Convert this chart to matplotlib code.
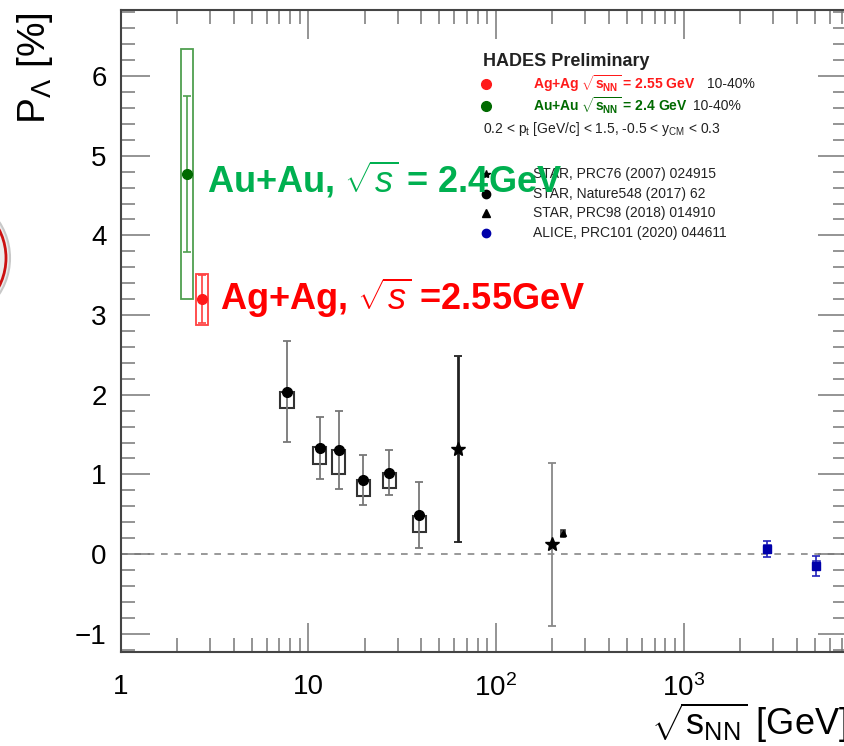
import matplotlib
matplotlib.use("Agg")
import matplotlib.pyplot as plt
from matplotlib.patches import Rectangle, Circle
import numpy as np

plt.rcParams["font.family"] = ["Liberation Sans", "DejaVu Sans"]
plt.rcParams["mathtext.fontset"] = "custom"
plt.rcParams["mathtext.rm"] = "Liberation Sans"
plt.rcParams["mathtext.it"] = "Liberation Sans:italic"
plt.rcParams["mathtext.bf"] = "Liberation Sans:bold"

# HADES (Au+Au 2.4, Ag+Ag 2.55), positions as drawn
hades_x = [2.26, 2.72]
hades_y = [4.77, 3.20]
hades_stat = [0.98, 0.30]
hades_sys = [1.57, 0.32]
hades_col = ["#006a00", "#ff1a1a"]
hades_box = ["#4f9f4f", "#ff4040"]

# STAR Nature548 (2017) 62
nat_x = [7.7, 11.5, 14.5, 19.6, 27.0, 39.0]
nat_y = [2.04, 1.33, 1.31, 0.93, 1.02, 0.49]
nat_err = [0.63, 0.39, 0.49, 0.31, 0.28, 0.42]
nat_sys_lo = [1.83, 1.13, 1.00, 0.73, 0.83, 0.28]
nat_sys_hi = [2.04, 1.34, 1.31, 0.93, 1.02, 0.48]

# STAR PRC76 (2007) 024915
prc76_x = [62.4, 200.0]
prc76_y = [1.32, 0.12]
prc76_err = [1.17, 1.02]

# STAR PRC98 (2018) 014910
prc98_x = [227.0]
prc98_y = [0.26]
prc98_err = [0.04]
prc98_sys_lo = [0.21]
prc98_sys_hi = [0.30]

# ALICE PRC101 (2020) 044611
alice_x = [2800.0, 5100.0]
alice_y = [0.06, -0.15]
alice_err = [0.10, 0.12]
alice_sys_lo = [0.01, -0.19]
alice_sys_hi = [0.11, -0.09]

W, H = 844, 746
fig = plt.figure(figsize=(W / 100, H / 100), dpi=100)


def fx(px):
    return px / W


def fy(py):
    return 1 - py / H


ax = fig.add_axes([fx(120.7), fy(652), (847 - 120.7) / W, (652 - 10) / H])
ax.set_xscale("log")
ax.set_xlim(1, 7430)
ax.set_ylim(-1.23, 6.83)


def boxes(xs, lo, hi, hw, color, lw=1.4):
    f = 10 ** hw
    for x, a, b in zip(xs, lo, hi):
        r = Rectangle((x / f, a), x * f - x / f, b - a, facecolor="none",
                      edgecolor=color, lw=lw, zorder=3)
        ax.add_patch(r)


ax.axhline(0, color="#888888", lw=1.2, ls=(0, (4, 4)), zorder=1)

# HADES
for i in range(2):
    f = 10 ** 0.032
    x = hades_x[i]
    ax.add_patch(Rectangle((x / f, hades_y[i] - hades_sys[i]), x * f - x / f,
                           2 * hades_sys[i], facecolor="none",
                           edgecolor=hades_box[i], lw=1.3, zorder=3))
    ax.errorbar([x], [hades_y[i]], yerr=[hades_stat[i]], fmt="o",
                color=hades_col[i], ms=7, ecolor=hades_box[i], elinewidth=1.2,
                capsize=3, capthick=1.2, zorder=4)

# STAR Nature
boxes(nat_x, nat_sys_lo, nat_sys_hi, 0.035, "#333333", lw=1.5)
ax.errorbar(nat_x, nat_y, yerr=nat_err, fmt="o", color="black", ms=7,
            ecolor="#777777", elinewidth=1.3, capsize=3, capthick=1.3, zorder=4)

# STAR PRC76
ax.errorbar(prc76_x[:1], prc76_y[:1], yerr=prc76_err[:1], fmt="*", color="black",
            ms=10, ecolor="#222222", elinewidth=2.0, capsize=3, capthick=1.3, zorder=4)
ax.errorbar(prc76_x[1:], prc76_y[1:], yerr=prc76_err[1:], fmt="*", color="black",
            ms=10, ecolor="#888888", elinewidth=1.3, capsize=3, capthick=1.3, zorder=4)

# STAR PRC98
boxes(prc98_x, prc98_sys_lo, prc98_sys_hi, 0.012, "#333333", lw=1.2)
ax.errorbar(prc98_x, prc98_y, yerr=prc98_err, fmt="^", color="black", ms=5,
            ecolor="#333333", elinewidth=1.0, zorder=4)

# ALICE
boxes(alice_x, alice_sys_lo, alice_sys_hi, 0.018, "#3333bb", lw=1.2)
ax.errorbar(alice_x, alice_y, yerr=alice_err, fmt="s", color="#0000aa", ms=6,
            ecolor="#2222bb", elinewidth=1.2, capsize=3, capthick=1.2, zorder=4)

# ROOT-like axes
for s in ax.spines.values():
    s.set_color("#444444")
    s.set_linewidth(1.5)
ax.tick_params(which="both", direction="in", top=True, right=True,
               color="#777777", width=1.1, labelsize=20, labelcolor="black")
ax.tick_params(which="major", length=21)
ax.tick_params(which="minor", length=10)
ax.tick_params(axis="x", pad=16)
ax.tick_params(axis="y", pad=10)
ax.set_xticks([1, 10, 100, 1000])
ax.set_xticklabels(["1", "10", r"$\mathregular{10^{2}}$", r"$\mathregular{10^{3}}$"])
ax.set_yticks(np.arange(-1, 7, 1))
ax.set_yticklabels(["\u22121", "0", "1", "2", "3", "4", "5", "6"])
ax.yaxis.set_minor_locator(matplotlib.ticker.MultipleLocator(0.2))
ax.xaxis.set_minor_locator(matplotlib.ticker.LogLocator(base=10, subs=np.arange(2, 10)))
ax.xaxis.set_minor_formatter(matplotlib.ticker.NullFormatter())

fig.text(fx(35), fy(12), r"P$_{\Lambda}$ [%]", rotation=90, ha="center", va="top",
         fontsize=28)
fig.text(fx(848), fy(745), r"$\sqrt{\mathregular{s_{NN}}}$ [GeV]", ha="right",
         va="bottom", fontsize=26)

# legend block
fig.text(fx(483), fy(62), "HADES Preliminary", fontsize=13, fontweight="bold",
         va="center", color="#222222")
leg_fs = 10
fig.text(fx(533), fy(84), r"Ag+Ag $\sqrt{\mathregular{s_{NN}}}$ = 2.55 GeV", color="#ff1a1a",
         fontsize=leg_fs, fontweight="bold", va="center")
fig.text(fx(707), fy(84), "10-40%", fontsize=leg_fs, va="center", color="#222222")
fig.text(fx(533), fy(106), r"Au+Au $\sqrt{\mathregular{s_{NN}}}$ = 2.4 GeV", color="#006a00",
         fontsize=leg_fs, fontweight="bold", va="center")
fig.text(fx(693), fy(106), "10-40%", fontsize=leg_fs, va="center", color="#222222")
fig.text(fx(483), fy(129), r"0.2 < p$_{\mathregular{t}}$ [GeV/c] < 1.5, -0.5 < y$_{\mathregular{CM}}$ < 0.3",
         fontsize=leg_fs, va="center", color="#222222")
leg_rows = [("*", "black", "STAR, PRC76 (2007) 024915", 174),
            ("o", "black", "STAR, Nature548 (2017) 62", 194),
            ("^", "black", "STAR, PRC98 (2018) 014910", 213),
            ("o", "#0000aa", "ALICE, PRC101 (2020) 044611", 233)]
for m, c, t, py in leg_rows:
    fig.lines.append(plt.Line2D([fx(486)], [fy(py)], marker=m, color=c, ms=6,
                                transform=fig.transFigure))
    fig.text(fx(533), fy(py), t, fontsize=leg_fs, va="center", color="#222222")
for c, py in [("#ff1a1a", 84), ("#006a00", 106)]:
    fig.lines.append(plt.Line2D([fx(486)], [fy(py)], marker="o", color=c, ms=7,
                                transform=fig.transFigure))

# big annotations
fig.text(fx(207), fy(180), r"Au+Au, $\sqrt{s}$ = 2.4GeV", color="#00b050",
         fontsize=26, fontweight="bold", va="center")
fig.text(fx(220), fy(298), r"Ag+Ag, $\sqrt{s}$ =2.55GeV", color="#ff0000",
         fontsize=26, fontweight="bold", va="center")

# slide decoration at left edge
fig.add_artist(Circle((-56 / 100, (H - 258) / 100), 66 / 100, facecolor="#ececec",
                      edgecolor="#c8c8c8", lw=1.5, transform=fig.dpi_scale_trans))
fig.add_artist(Circle((-56 / 100, (H - 258) / 100), 62 / 100, facecolor="none",
                      edgecolor="#cc1111", lw=2.0, transform=fig.dpi_scale_trans))

fig.savefig("out.png", dpi=100)
